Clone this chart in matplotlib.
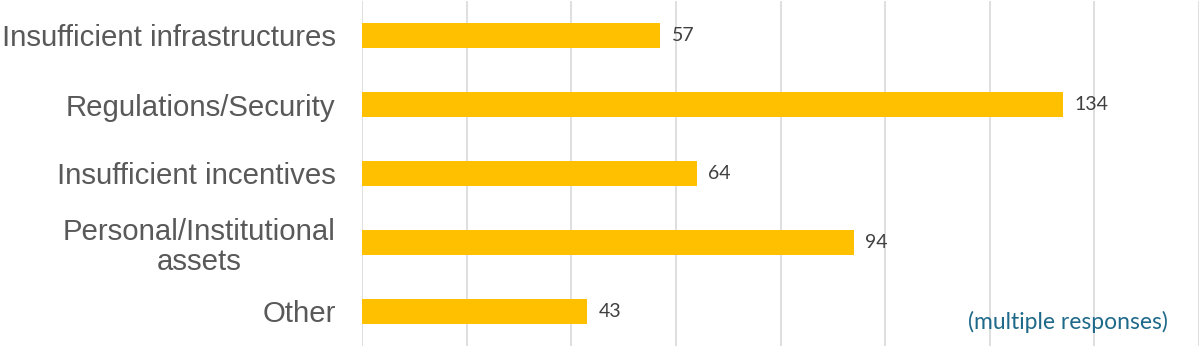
import matplotlib
matplotlib.use("Agg")
import matplotlib.pyplot as plt

# categories top to bottom and their counts
categories = [
    "Insufficient infrastructures",
    "Regulations/Security",
    "Insufficient incentives",
    "Personal/Institutional\nassets",
    "Other",
]
counts = [57, 134, 64, 94, 43]
x_ticks = [0, 20, 40, 60, 80, 100, 120, 140, 160]
note = "(multiple responses)"

fig = plt.figure(figsize=(12, 3.47), dpi=100)
ax = fig.add_axes([362 / 1200, 1 / 347, (1199 - 362) / 1200, 345 / 347])

y = list(range(len(categories)))
ax.barh(y, counts, height=0.35, color="#FFC000", zorder=2)

for yi, v in zip(y, counts):
    ax.text(v + 2.2, yi, str(v), va="center", ha="left",
            fontsize=14, color="#404040", family="Lato")

ax.set_xlim(0, 160)
ax.set_ylim(len(categories) - 0.5, -0.5)
ax.set_xticks(x_ticks)
ax.set_xticklabels([])
ax.grid(axis="x", color="#D9D9D9", linewidth=1.2, zorder=0)
ax.tick_params(axis="both", length=0)

ax.set_yticks(y)
ax.set_yticklabels(categories, fontsize=21.2, color="#595959",
                   family="Liberation Sans", multialignment="center",
                   linespacing=1.1)
ax.tick_params(axis="y", pad=19)

for s in ax.spines.values():
    s.set_visible(False)

ax.text(0.963, 0.07, note, transform=ax.transAxes, ha="right", va="center",
        fontsize=16.5, color="#1F6A8A", family="Lato")

fig.savefig("out.png", dpi=100)
